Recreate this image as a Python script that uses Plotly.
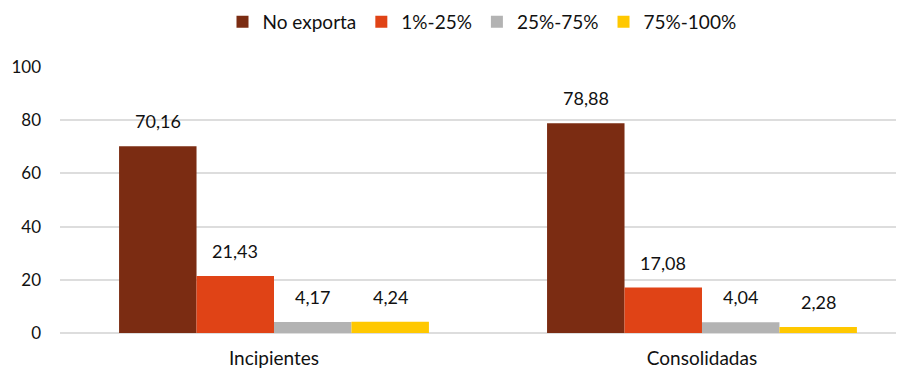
import plotly.graph_objects as go

categorias = ['Incipientes', 'Consolidadas']
series = ['No exporta', '1%-25%', '25%-75%', '75%-100%']
valores = {
    'No exporta': [70.16, 78.88],
    '1%-25%': [21.43, 17.08],
    '25%-75%': [4.17, 4.04],
    '75%-100%': [4.24, 2.28],
}
colores = ['#7B2C12', '#E04316', '#B3B3B3', '#FFC800']

fig = go.Figure()
for nombre, color in zip(series, colores):
    fig.add_trace(go.Bar(
        x=categorias, y=valores[nombre], name=nombre,
        marker=dict(color=color, line=dict(width=0)),
    ))

# etiquetas de datos separadas de la barra (como en Excel)
ancho_barra = 428 * (1 - 0.276) / 4
anotaciones = []
for i, nombre in enumerate(series):
    for cat, v in zip(categorias, valores[nombre]):
        anotaciones.append(dict(
            x=cat, y=v, text=f'{v:.2f}'.replace('.', ','),
            showarrow=False, xshift=(i - 1.5) * ancho_barra, yshift=25,
            yanchor='middle', font=dict(size=18, color='#111111'),
        ))

fig.update_layout(
    width=896, height=366,
    margin=dict(l=52, r=0, t=59, b=41, autoexpand=False),
    paper_bgcolor='white', plot_bgcolor='white',
    font=dict(family='Lato, sans-serif', size=17, color='#111111'),
    barmode='group', bargap=0.276, bargroupgap=0,
    annotations=anotaciones,
    legend=dict(orientation='h', x=0.5, xanchor='center', y=1.17, yanchor='middle',
                font=dict(size=19), itemwidth=30, traceorder='normal'),
    xaxis=dict(range=[-0.5, 1.472], showgrid=False, ticks='', showline=False,
               automargin=False, ticklabelstandoff=12, tickfont=dict(size=19)),
    yaxis=dict(range=[0, 100], dtick=20, showgrid=True, gridcolor='#DDDDDD',
               gridwidth=2, zeroline=True, zerolinecolor='#DDDDDD', zerolinewidth=2,
               ticks='', ticklabelstandoff=18, automargin=False),
)

fig.write_html("out.html")
